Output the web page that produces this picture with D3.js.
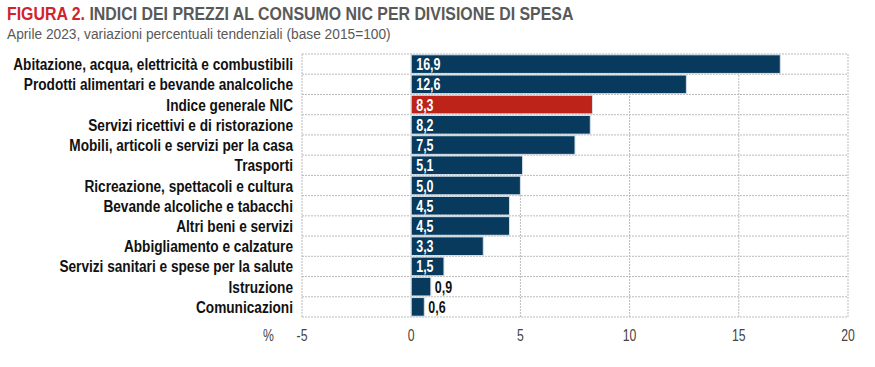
<!DOCTYPE html>
<meta charset="utf-8">
<style>
body { margin: 0; background: #fff; }
svg { font-family: 'Liberation Sans', Arial, sans-serif; }
.grid line { stroke: #bbb; stroke-dasharray: 2,1; stroke-width: 1px; }
.cat { font-size: 17px; font-weight: bold; fill: #111; }
.tick-lab { font-size: 17px; fill: #444; }
</style>
<body>
<script src="https://cdnjs.cloudflare.com/ajax/libs/d3/7.8.5/d3.min.js"></script>
<script>
var categories = [
  "Abitazione, acqua, elettricità e combustibili",
  "Prodotti alimentari e bevande analcoliche",
  "Indice generale NIC",
  "Servizi ricettivi e di ristorazione",
  "Mobili, articoli e servizi per la casa",
  "Trasporti",
  "Ricreazione, spettacoli e cultura",
  "Bevande alcoliche e tabacchi",
  "Altri beni e servizi",
  "Abbigliamento e calzature",
  "Servizi sanitari e spese per la salute",
  "Istruzione",
  "Comunicazioni"
];
var values = [16.9, 12.6, 8.3, 8.2, 7.5, 5.1, 5.0, 4.5, 4.5, 3.3, 1.5, 0.9, 0.6];
var ticks = [-5, 0, 5, 10, 15, 20];
var highlight = "Indice generale NIC";

var width = 875, height = 367;
var svg = d3.select("body").append("svg")
    .attr("width", width)
    .attr("height", height);

// the reference uses a narrow font: squeeze text horizontally
function place(sel, fx, fy, sx) {
  sel.attr("transform", function(d, i) {
    return "translate(" + fx(d, i) + "," + fy(d, i) + ") scale(" + sx + ",1)";
  });
}

// titles
var title = svg.append("text")
    .style("font-size", "18px").style("font-weight", "bold");
title.append("tspan").attr("fill", "#d2232a").text("FIGURA 2. ");
title.append("tspan").attr("fill", "#595959").text("INDICI DEI PREZZI AL CONSUMO NIC PER DIVISIONE DI SPESA");
var tw = title.node().getComputedTextLength();
title.attr("transform", "translate(7,20) scale(" + (567 / tw) + ",1)");

var sub = svg.append("text")
    .attr("fill", "#595959").style("font-size", "15px")
    .text("Aprile 2023, variazioni percentuali tendenziali (base 2015=100)");
var sw = sub.node().getComputedTextLength();
sub.attr("transform", "translate(7,39) scale(" + (384 / sw) + ",1)");

var x = d3.scaleLinear().domain([-5, 20]).range([302, 848]);
var y = d3.scaleBand().domain(categories).range([54, 317]).paddingInner(0.08).paddingOuter(0.04);
var rowH = (317 - 54) / categories.length;

// grid
var grid = svg.append("g").attr("class", "grid");
grid.selectAll(".v").data(ticks).enter().append("line")
    .attr("x1", function(d) { return x(d); }).attr("x2", function(d) { return x(d); })
    .attr("y1", 54).attr("y2", 317);
grid.selectAll(".h").data(d3.range(categories.length + 1)).enter().append("line")
    .attr("x1", x(-5)).attr("x2", x(20))
    .attr("y1", function(i) { return 54 + i * rowH; })
    .attr("y2", function(i) { return 54 + i * rowH; });

// bars
svg.selectAll(".bar").data(values).enter().append("rect")
    .attr("x", x(0))
    .attr("y", function(d, i) { return y(categories[i]); })
    .attr("width", function(d) { return x(d) - x(0); })
    .attr("height", y.bandwidth())
    .attr("fill", function(d, i) { return categories[i] === highlight ? "#be2319" : "#073a5c"; })
    .attr("stroke", "#d6e0ea").attr("stroke-width", 1);

// value labels
var vals = svg.selectAll(".val").data(values).enter().append("text")
    .attr("fill", function(d) { return d < 1 ? "#111" : "#fff"; })
    .style("font-size", "16px").style("font-weight", "bold")
    .text(function(d) { return d3.format(".1f")(d).replace(".", ","); });
place(vals,
  function(d) { return d < 1 ? x(d) + 4 : x(0) + 5; },
  function(d, i) { return y(categories[i]) + y.bandwidth() / 2 + 6; },
  0.78);

// category labels
var cats = svg.selectAll(".cat").data(categories).enter().append("text")
    .attr("class", "cat")
    .attr("text-anchor", "end")
    .text(function(d) { return d; });
var longest = d3.max(cats.nodes(), function(n) { return n.getComputedTextLength(); });
place(cats,
  function() { return 293; },
  function(d) { return y(d) + y.bandwidth() / 2 + 6; },
  280 / longest);

// x axis labels
var tl = svg.selectAll(".tick-lab").data(ticks).enter().append("text")
    .attr("class", "tick-lab")
    .attr("text-anchor", "middle")
    .text(function(d) { return d; });
place(tl, function(d) { return x(d); }, function() { return 341; }, 0.72);
var pct = svg.append("text").attr("class", "tick-lab").text("%");
pct.attr("transform", "translate(263,341) scale(0.72,1)");
</script>
